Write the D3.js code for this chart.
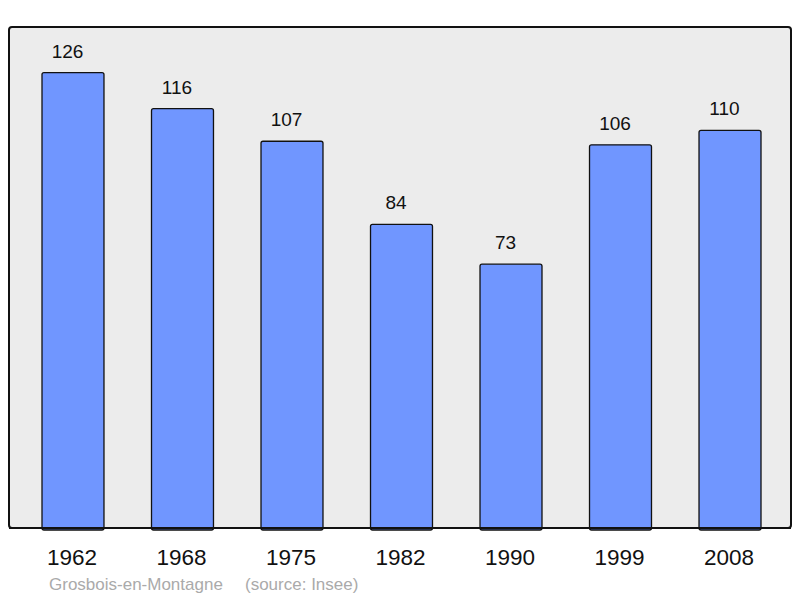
<!DOCTYPE html>
<html lang="fr">
<head>
  <meta charset="UTF-8" />
  <title>Grosbois-en-Montagne</title>
  <script src="https://d3js.org/d3.v7.min.js"></script>
  <style>
    body { margin: 0; background: #fff; }
    text { font-family: "Liberation Sans", Arial, sans-serif; }
  </style>
</head>
<body>
<div id="chart"></div>
<script>
// Population data
const years = ["1962", "1968", "1975", "1982", "1990", "1999", "2008"];
const population = [126, 116, 107, 84, 73, 106, 110];
const commune = "Grosbois-en-Montagne";
const source = "(source: Insee)";

const width = 800, height = 598;
const panel = { left: 9, right: 791, top: 27, bottom: 528 };

const svg = d3.select("#chart").append("svg")
  .attr("width", width)
  .attr("height", height);

// grey plot area
svg.append("rect")
  .attr("x", panel.left)
  .attr("y", panel.top)
  .attr("width", panel.right - panel.left)
  .attr("height", panel.bottom - panel.top)
  .attr("rx", 3)
  .attr("fill", "#ececec")
  .attr("stroke", "#111")
  .attr("stroke-width", 2);

const x = d3.scaleBand()
  .domain(years)
  .range([9.15, 793.85])
  .paddingInner(0.434)
  .paddingOuter(0.3);

const y = d3.scaleLinear()
  .domain([0, d3.max(population) * 1.1])
  .range([panel.bottom, panel.top]);

const data = years.map((yr, i) => ({ year: yr, value: population[i] }));

// bars
svg.selectAll("rect.bar").data(data).enter().append("rect")
  .attr("class", "bar")
  .attr("x", d => x(d.year))
  .attr("y", d => y(d.value))
  .attr("width", x.bandwidth())
  .attr("height", d => panel.bottom - y(d.value) + 2)
  .attr("rx", 2)
  .attr("fill", "#7096ff")
  .attr("stroke", "#111")
  .attr("stroke-width", 1.3);

// redraw bottom edge of the panel over the bars
svg.append("line")
  .attr("x1", panel.left).attr("x2", panel.right)
  .attr("y1", panel.bottom).attr("y2", panel.bottom)
  .attr("stroke", "#111").attr("stroke-width", 2);

// value labels (sit a little left of the bar centre)
svg.selectAll("text.val").data(data).enter().append("text")
  .attr("class", "val")
  .attr("x", d => x(d.year) + x.bandwidth() / 2 - 5.5)
  .attr("y", d => y(d.value) - 15)
  .attr("text-anchor", "middle")
  .attr("font-size", 19)
  .attr("fill", "#111")
  .text(d => d.value);

// year labels
svg.selectAll("text.year").data(data).enter().append("text")
  .attr("class", "year")
  .attr("x", d => x(d.year) + x.bandwidth() / 2 - 1)
  .attr("y", 565)
  .attr("text-anchor", "middle")
  .attr("font-size", 22.5)
  .attr("fill", "#111")
  .text(d => d.year);

// footer
svg.append("text")
  .attr("x", 49).attr("y", 590)
  .attr("font-size", 17)
  .attr("fill", "#aaa")
  .text(commune);
svg.append("text")
  .attr("x", 245).attr("y", 590)
  .attr("font-size", 17)
  .attr("fill", "#aaa")
  .text(source);
</script>
</body>
</html>
